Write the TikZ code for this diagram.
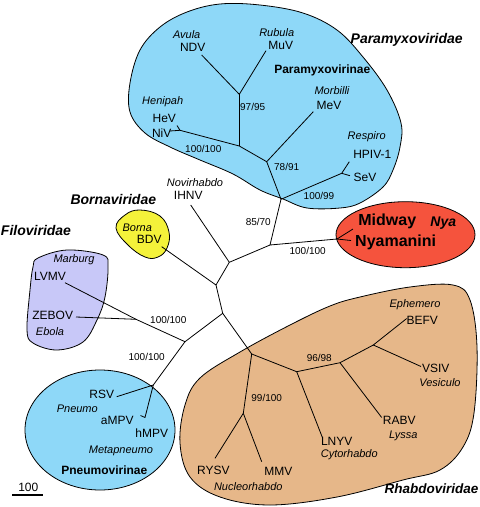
\documentclass[tikz,border=0pt]{standalone}
\usepackage{fontspec}
\setmainfont{Liberation Sans}
\definecolor{pblue}{RGB}{142,216,248}
\definecolor{lav}{RGB}{200,200,248}
\definecolor{yel}{RGB}{244,242,58}
\definecolor{nyared}{RGB}{245,83,61}
\definecolor{tanc}{RGB}{230,183,137}
\begin{document}
\begin{tikzpicture}[x=1pt,y=-1pt,
  br/.style={line width=0.8pt,line join=round},
  blob/.style={draw=black,line width=0.8pt},
  vir/.style={font=\fontsize{12}{14}\selectfont, inner sep=0pt},
  gen/.style={font=\fontsize{11}{13}\selectfont\itshape, inner sep=0pt},
  bs/.style={font=\fontsize{10}{12}\selectfont, inner sep=0pt},
  fam/.style={font=\fontsize{14}{16}\selectfont\bfseries\itshape, inner sep=0pt},
  subf/.style={font=\fontsize{12}{14}\selectfont\bfseries, inner sep=0pt},
  nyaf/.style={font=\fontsize{16}{18}\selectfont\bfseries, inner sep=0pt}]
\useasboundingbox (0,0) rectangle (480,507);

% ---- blobs ----
\draw[blob,fill=pblue] plot[smooth cycle,tension=0.6] coordinates {
 (130,83) (140,50) (160,27) (187,12) (220,4) (260,5) (303,13) (337,30)
 (363,57) (387,90) (401,123) (400,147) (393,170) (383,187) (360,203)
 (340,208) (307,208) (283,199) (260,190) (233,174) (200,160) (170,147)
 (145,133) (130,112)};
\draw[blob,fill=yel] plot[smooth cycle,tension=0.7] coordinates {
 (116,228) (125,215) (140,210) (160,216) (169,232) (167,248) (158,257)
 (145,257) (128,245)};
\draw[blob,fill=lav] plot[smooth cycle,tension=0.6] coordinates {
 (38,258) (67,250) (103,255) (108,267) (105,297) (97,320) (83,342)
 (57,350) (33,343) (27,330) (30,290) (33,267)};
\draw[blob,fill=nyared] (405.5,234.7) ellipse [x radius=69.5pt, y radius=33pt];
\draw[blob,fill=pblue] (100,430) ellipse [x radius=75pt, y radius=60pt];
\draw[blob,fill=tanc] plot[smooth cycle,tension=0.6] coordinates {
 (200,378) (240,352) (290,325) (330,306) (360,297) (410,287) (453,285)
 (470,300) (477,347) (474,413) (463,447) (440,470) (403,480) (337,497)
 (270,505) (220,497) (190,477) (180,443) (185,405)};

% ---- tree coordinates ----
\coordinate (A1) at (239.3,94.3);
\coordinate (ndv) at (201.7,55);
\coordinate (muv) at (266,50.7);
\coordinate (A2) at (239.3,146);
\coordinate (hn) at (180,130.3);
\coordinate (hev) at (177,125.5);
\coordinate (niv) at (170,131);
\coordinate (A3) at (266.7,161.7);
\coordinate (mev) at (313.3,111.7);
\coordinate (A4) at (281,199.3);
\coordinate (sf) at (341.7,173.3);
\coordinate (hpiv) at (349.3,161.7);
\coordinate (sev) at (350,175.7);
\coordinate (C) at (270,245);
\coordinate (B2) at (229.3,262.3);
\coordinate (ihnv) at (190.7,205);
\coordinate (B1) at (216,285);
\coordinate (bdv) at (161.7,246.7);
\coordinate (nf) at (337,239);
\coordinate (mid) at (353,229);
\coordinate (nyam) at (351,240.5);
\coordinate (D) at (222.7,313.3);
\coordinate (E) at (185,341.7);
\coordinate (F) at (136,319.3);
\coordinate (lvmv) at (65,282.7);
\coordinate (zebov) at (76,317);
\coordinate (P) at (153.3,385);
\coordinate (rsv) at (116.7,396.7);
\coordinate (G) at (145,417.5);
\coordinate (ampv) at (140.5,415.5);
\coordinate (R1) at (251.7,354);
\coordinate (R2) at (243.3,413.3);
\coordinate (rysv) at (215,458.3);
\coordinate (mmv) at (261.7,461.7);
\coordinate (R3) at (296.7,371.7);
\coordinate (lnyv) at (322.7,438.3);
\coordinate (R4) at (340,362.7);
\coordinate (rabv) at (381.7,417.5);
\coordinate (R5) at (373.3,345);
\coordinate (vsiv) at (421,366.5);
\coordinate (befv) at (406.7,318.5);

% ---- branches ----
\draw[br] (ndv) -- (A1) -- (muv);
\draw[br] (A1) -- (A2);
\draw[br] (niv) -- (hn) -- (hev);
\draw[br] (hn) -- (A2) -- (A3) -- (mev);
\draw[br] (A3) -- (A4) -- (sf) -- (hpiv);
\draw[br] (sf) -- (sev);
\draw[br] (A4) -- (C) -- (nf) -- (mid);
\draw[br] (nf) -- (nyam);
\draw[br] (C) -- (B2) -- (ihnv);
\draw[br] (B2) -- (B1) -- (bdv);
\draw[br] (B1) -- (D) -- (E) -- (F) -- (lvmv);
\draw[br] (F) -- (zebov);
\draw[br] (E) -- (P) -- (rsv);
\draw[br] (P) -- (G) -- (ampv);
\draw[br] (D) -- (R1) -- (R2) -- (rysv);
\draw[br] (R2) -- (mmv);
\draw[br] (R1) -- (R3) -- (lnyv);
\draw[br] (R3) -- (R4) -- (rabv);
\draw[br] (R4) -- (R5) -- (vsiv);
\draw[br] (R5) -- (befv);

% ---- scale bar ----
\coordinate (sb1) at (12.3,495);
\coordinate (sb2) at (43.3,495);
\draw[line width=1.2pt] (sb1) -- (sb2);
\node[vir] (sbl) at (28.3,487.7) {100};

% ---- labels: Paramyxoviridae ----
\node[fam] (tpara) at (406.7,40) {Paramyxoviridae};
\node[subf] (tparav) at (322.3,70.7) {Paramyxovirinae};
\node[gen] (tavula) at (186.7,35) {Avula};
\node[vir] (tndv) at (192.7,47.3) {NDV};
\node[gen] (trubula) at (276.7,32.3) {Rubula};
\node[vir] (tmuv) at (280.7,45.7) {MuV};
\node[gen] (tmorb) at (332,90.7) {Morbilli};
\node[vir] (tmev) at (329,105.3) {MeV};
\node[gen] (theni) at (162.7,101.7) {Henipah};
\node[vir] (thev) at (164.3,118.3) {HeV};
\node[vir] (tniv) at (161.7,132.7) {NiV};
\node[bs] (b9795) at (252.7,106.7) {97/95};
\node[bs] (b100a) at (203.3,149) {100/100};
\node[bs] (b7891) at (286.7,167.3) {78/91};
\node[gen] (tresp) at (366.7,136.7) {Respiro};
\node[vir] (thpiv) at (372.3,154.3) {HPIV-1};
\node[vir] (tsev) at (365,177.7) {SeV};
\node[bs] (b10099) at (319,195.7) {100/99};

% ---- Novirhabdo, Borna, Nya ----
\node[gen] (tnovi) at (195,182.7) {Novirhabdo};
\node[vir] (tihnv) at (188.3,195.7) {IHNV};
\node[fam] (tborna) at (113.3,199.3) {Bornaviridae};
\node[gen] (tbornag) at (137.3,227.3) {Borna};
\node[vir] (tbdv) at (149.3,239.3) {BDV};
\node[bs] (b8570) at (258.3,221.7) {85/70};
\node[bs] (b100b) at (307.7,251) {100/100};
\node[nyaf] (tmid) at (387.3,221.7) {Midway};
\node[font=\fontsize{14}{16}\selectfont\bfseries\itshape, inner sep=0pt] (tnya) at (443.3,223.3) {Nya};
\node[nyaf] (tnyam) at (395.7,242.3) {Nyamanini};

% ---- Filoviridae ----
\node[fam] (tfilo) at (36,230.7) {Filoviridae};
\node[gen] (tmarb) at (74,259.3) {Marburg};
\node[vir] (tlvmv) at (50,276) {LVMV};
\node[vir] (tzebov) at (52.7,315) {ZEBOV};
\node[gen] (tebola) at (50,331.7) {Ebola};
\node[bs] (b100c) at (168.3,320) {100/100};

% ---- Pneumovirinae ----
\node[bs] (b100d) at (146.7,357.3) {100/100};
\node[vir] (trsv) at (101.7,394) {RSV};
\node[gen] (tpneu) at (77.3,408.3) {Pneumo};
\node[vir] (tampv) at (117.3,420.7) {aMPV};
\node[vir] (thmpv) at (151.7,432.7) {hMPV};
\node[gen] (tmeta) at (121,450.7) {Metapneumo};
\node[subf] (tpneuv) at (104.3,470) {Pneumovirinae};

% ---- Rhabdoviridae ----
\node[gen] (teph) at (415,304.3) {Ephemero};
\node[vir] (tbefv) at (422.3,320) {BEFV};
\node[bs] (b9698) at (319.3,358.3) {96/98};
\node[vir] (tvsiv) at (435.7,368.3) {VSIV};
\node[gen] (tves) at (440,382.3) {Vesiculo};
\node[bs] (b99100) at (266.7,398.3) {99/100};
\node[vir] (trabv) at (399.3,420.7) {RABV};
\node[gen] (tlyssa) at (403.3,436) {Lyssa};
\node[vir] (tlnyv) at (336.7,441.7) {LNYV};
\node[gen] (tcyto) at (349.3,455) {Cytorhabdo};
\node[vir] (trysv) at (213.3,470) {RYSV};
\node[vir] (tmmv) at (278.3,471.7) {MMV};
\node[gen] (tnucl) at (248.3,486.7) {Nucleorhabdo};
\node[fam,font=\fontsize{13.5}{16}\selectfont\bfseries\itshape] (trhab) at (431.5,488.3) {Rhabdoviridae};
\end{tikzpicture}
\end{document}
